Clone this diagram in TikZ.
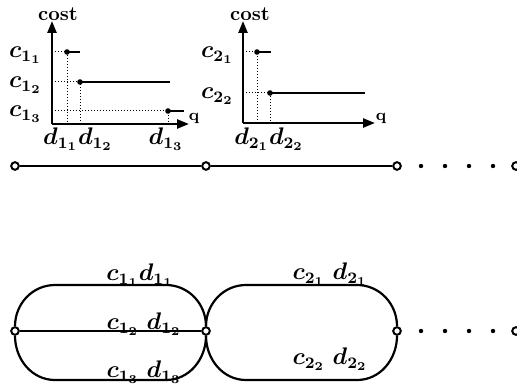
\documentclass[tikz,border=0pt]{standalone}
\usepackage{amsmath,amssymb}
\usepackage{tikz}
\usetikzlibrary{arrows.meta,positioning,calc}

\begin{document}
\begin{tikzpicture}[
  x=0.5pt,y=-0.5pt,
  axis/.style={line width=1.2pt,-{Triangle[length=6pt,width=4.5pt]}},
  guide/.style={densely dotted,line width=0.5pt},
  level/.style={line width=0.9pt},
  stepdot/.style={circle,fill,inner sep=0pt,minimum size=2.8pt},
  vertex/.style={circle,draw,fill=white,line width=1pt,inner sep=0pt,minimum size=3.8pt},
  ellip/.style={circle,fill,inner sep=0pt,minimum size=2.2pt},
  edge/.style={line width=1.1pt},
  lbl/.style={font=\large\boldmath,inner sep=1pt}
]
\useasboundingbox (0,0) rectangle (517,384);

% cost function of the first link
\coordinate (o1) at (52,124);
\draw[axis] (o1) -- (52,21);
\draw[axis] (o1) -- (189,124);
\node[font=\bfseries] (cost1) at (58,14) {cost};
\node[font=\footnotesize\bfseries] (q1) at (194,118) {q};
\foreach \x/\y/\e/\k in {67/52/80/1,80/82/170/2,168/111/184/3}{
  \draw[guide] (52,\y) -- (\x,\y) -- (\x,124);
  \draw[level] (\x,\y) -- (\e,\y);
  \node[stepdot] (a\k) at (\x,\y) {};
  \node[lbl,anchor=east] (ca\k) at (44,\y+3) {$c_{1_\k}$};
}
\node[lbl] (da) at (78,139) {$d_{1_1}d_{1_2}$};
\node[lbl] (db) at (166,139) {$d_{1_3}$};

% cost function of the second link
\coordinate (o2) at (243,123);
\draw[axis] (o2) -- (243,21);
\draw[axis] (o2) -- (375,123);
\node[font=\bfseries] (cost2) at (250,14) {cost};
\node[font=\footnotesize\bfseries] (q2) at (381,118) {q};
\foreach \x/\y/\e/\k in {257/52/271/1,270/93/365/2}{
  \draw[guide] (243,\y) -- (\x,\y) -- (\x,123);
  \draw[level] (\x,\y) -- (\e,\y);
  \node[stepdot] (b\k) at (\x,\y) {};
  \node[lbl,anchor=east] (cb\k) at (236,\y+3) {$c_{2_\k}$};
}
\node[lbl] (dc) at (269,139) {$d_{2_1}d_{2_2}$};

% chain of links
\node[vertex] (u0) at (15,166) {};
\node[vertex] (u1) at (206,166) {};
\node[vertex] (u2) at (397,166) {};
\node[vertex] (u3) at (516,166) {};
\draw[edge] (u0) -- (u1) -- (u2);
\foreach \x in {421,445,469,493} \node[ellip] (m\x) at (\x,166) {};

% multigraph with parallel arcs
\node[vertex] (w0) at (15,331) {};
\node[vertex] (w1) at (206,331) {};
\node[vertex] (w2) at (397,331) {};
\node[vertex] (w3) at (516,331) {};
\draw[edge] (w0) to[out=90,in=180] (55,285) -- (166,285) to[out=0,in=90] (w1);
\draw[edge] (w0) -- (w1);
\draw[edge] (w0) to[out=-90,in=180] (55,380) -- (166,380) to[out=0,in=-90] (w1);
\draw[edge] (w1) to[out=90,in=180] (246,285) -- (357,285) to[out=0,in=90] (w2);
\draw[edge] (w1) to[out=-90,in=180] (246,380) -- (357,380) to[out=0,in=-90] (w2);
\foreach \x in {421,445,469,493} \node[ellip] (n\x) at (\x,331) {};
\node[lbl] (e11) at (140,275) {$c_{1_1}d_{1_1}$};
\node[lbl] (e12) at (144,324) {$c_{1_2}\;d_{1_2}$};
\node[lbl] (e13) at (144,372) {$c_{1_3}\;d_{1_3}$};
\node[lbl] (e21) at (330,274) {$c_{2_1}\;d_{2_1}$};
\node[lbl] (e22) at (330,359) {$c_{2_2}\;d_{2_2}$};
\end{tikzpicture}
\end{document}
